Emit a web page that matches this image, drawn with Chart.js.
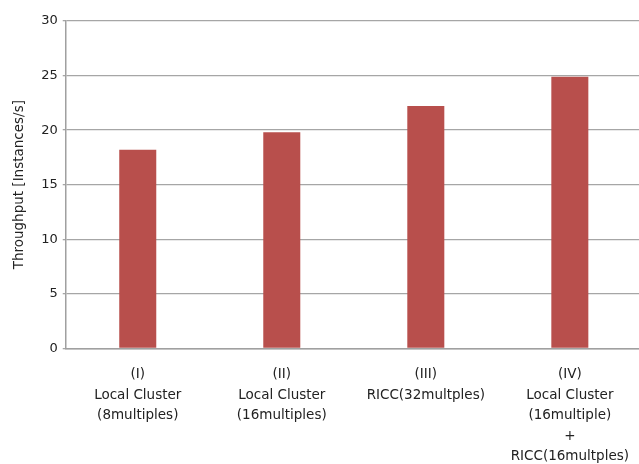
<!DOCTYPE html>
<html lang="en">
<head>
    <meta charset="UTF-8">
    <title>Throughput</title>
    <script src="https://cdn.jsdelivr.net/npm/chart.js@4.4.0/dist/chart.umd.min.js"></script>
    <style>
        body { margin: 0; overflow: hidden; background: #fff; }
        #wrap { width: 645px; height: 483px; }
    </style>
</head>
<body>
    <div id="wrap"><canvas id="myChart"></canvas></div>
    <script>
        // categories (multi-line labels)
        var labels = [
            ["(I)", "Local Cluster", "(8multiples)"],
            ["(II)", "Local Cluster", "(16multiples)"],
            ["(III)", "RICC(32multples)"],
            ["(IV)", "Local Cluster", "(16multiple)", "+", "RICC(16multples)"]
        ];
        var throughput = [18.2, 19.8, 22.2, 24.9];
        var yTitle = "Throughput [Instances/s]";

        var fontFam = "'DejaVu Sans', sans-serif";

        new Chart("myChart", {
            type: "bar",
            data: {
                labels: labels,
                datasets: [{
                    data: throughput,
                    backgroundColor: "#b84f4c",
                    categoryPercentage: 1,
                    barPercentage: 0.257
                }]
            },
            options: {
                responsive: true,
                maintainAspectRatio: false,
                animation: false,
                layout: { padding: { top: 21, left: 11, right: 0, bottom: 0 } },
                plugins: {
                    legend: { display: false },
                    tooltip: { enabled: false }
                },
                scales: {
                    x: {
                        grid: { display: false, drawTicks: false },
                        border: { color: "#a0a0a0", width: 1.5 },
                        ticks: {
                            color: "#222",
                            font: { family: fontFam, size: 13.5, lineHeight: 1.52 },
                            padding: 16,
                            maxRotation: 0,
                            autoSkip: false
                        }
                    },
                    y: {
                        min: 0,
                        max: 30,
                        ticks: {
                            stepSize: 5,
                            color: "#222",
                            font: { family: fontFam, size: 13 },
                            padding: 5
                        },
                        grid: { color: "#a6a6a6", lineWidth: 1.3, tickLength: 3 },
                        border: { color: "#a0a0a0", width: 1.5 },
                        title: {
                            display: true,
                            text: yTitle,
                            color: "#222",
                            font: { family: fontFam, size: 13.5 },
                            padding: { top: 0, bottom: 9 }
                        }
                    }
                }
            }
        });
    </script>
</body>
</html>
